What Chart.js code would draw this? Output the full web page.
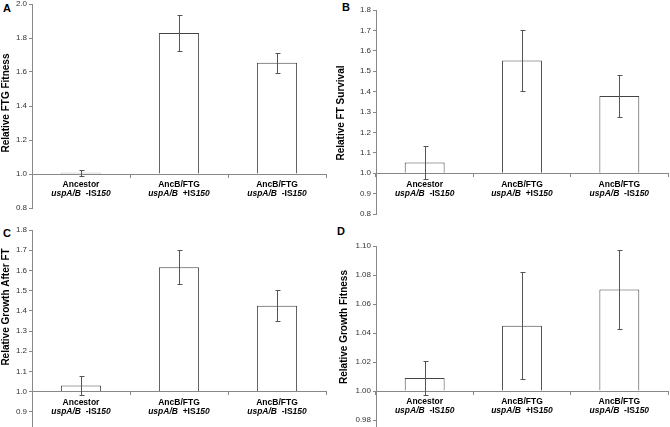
<!DOCTYPE html>
<html>
<head>
<meta charset="utf-8">
<script src="https://cdn.jsdelivr.net/npm/chart.js@4.4.1/dist/chart.umd.min.js"></script>
<style>
  html, body { margin: 0; padding: 0; background: #fff; }
  body { width: 670px; height: 427px; overflow: hidden; position: relative; }
  .panel { position: absolute; }
  .letter { position: absolute; font: bold 11px "Liberation Sans", Arial, sans-serif; line-height: 11px; color: #000; }
</style>
</head>
<body>
<div class="letter" style="left:3px;top:3px">A</div>
<div class="letter" style="left:342px;top:2px">B</div>
<div class="letter" style="left:3px;top:228px">C</div>
<div class="letter" style="left:337px;top:226px">D</div>

<canvas id="chartA" class="panel" width="335" height="220" style="left:0;top:0"></canvas>
<canvas id="chartB" class="panel" width="335" height="222" style="left:335px;top:0"></canvas>
<canvas id="chartC" class="panel" width="335" height="226" style="left:0;top:214px"></canvas>
<canvas id="chartD" class="panel" width="335" height="243" style="left:335px;top:214px"></canvas>

<script>
// strains (two label lines)
const strains = ['Ancestor', 'AncB/FTG', 'AncB/FTG'];
const genotypes = ['uspA/B  -IS150', 'uspA/B  +IS150', 'uspA/B  -IS150'];

// panel A
const ftgFitness = [1.007, 1.83, 1.655];
const ftgFitnessErr = [0.016, 0.105, 0.058];
const ftgFitnessTicks = [0.8, 2.0, 0.2];

// panel B
const ftSurvival = [1.052, 1.553, 1.378];
const ftSurvivalErr = [0.082, 0.151, 0.101];
const ftSurvivalTicks = [0.8, 1.8, 0.1];

// panel C
const growthAfterFt = [1.03, 1.616, 1.425];
const growthAfterFtErr = [0.045, 0.084, 0.076];
const growthAfterFtTicks = [0.8, 1.8, 0.1];

// panel D
const growthFitness = [1.009, 1.045, 1.07];
const growthFitnessErr = [0.012, 0.037, 0.0275];
const growthFitnessTicks = [0.96, 1.10, 0.02];

const FONT = '"Liberation Sans", Arial, sans-serif';

// error bars drawn on top of the bars
const errorBars = {
  id: 'errorBars',
  afterDatasetsDraw(chart, args, opts) {
    const ctx = chart.ctx;
    const y = chart.scales.y;
    const meta = chart.getDatasetMeta(0);
    const vals = chart.data.datasets[0].data;
    ctx.save();
    ctx.strokeStyle = '#555';
    ctx.lineWidth = 1;
    meta.data.forEach((bar, i) => {
      const x = Math.round(bar.x) + 0.5;
      const top = Math.round(y.getPixelForValue(vals[i] + opts.err[i])) + 0.5;
      const bot = Math.round(y.getPixelForValue(vals[i] - opts.err[i])) + 0.5;
      ctx.beginPath();
      ctx.moveTo(x, top); ctx.lineTo(x, bot);
      ctx.moveTo(x - 2, top); ctx.lineTo(x + 3, top);
      ctx.moveTo(x - 2, bot); ctx.lineTo(x + 3, bot);
      ctx.stroke();
    });
    ctx.restore();
  }
};

// two-line category labels under the axis at 1.0, mixed bold / italic
const strainLabels = {
  id: 'strainLabels',
  afterDraw(chart) {
    const ctx = chart.ctx;
    const xs = chart.scales.x;
    const axisY = chart.scales.y.getPixelForValue(1);
    ctx.save();
    ctx.fillStyle = '#000';
    ctx.textBaseline = 'middle';
    strains.forEach((name, i) => {
      const cx = xs.getPixelForValue(i);
      ctx.font = 'bold 8.5px ' + FONT;
      ctx.textAlign = 'center';
      ctx.fillText(name, cx, axisY + 11);

      const m = genotypes[i].match(/^(\S+)(\s+[-+]IS)(\d+)$/);
      const parts = [
        [m[1], 'italic bold 8.5px ' + FONT],
        [m[2], 'bold 8.5px ' + FONT],
        [m[3], 'italic bold 8.5px ' + FONT]
      ];
      let w = 0;
      parts.forEach(p => { ctx.font = p[1]; w += ctx.measureText(p[0]).width; });
      let x = cx - w / 2;
      ctx.textAlign = 'left';
      parts.forEach(p => {
        ctx.font = p[1];
        ctx.fillText(p[0], x, axisY + 20);
        x += ctx.measureText(p[0]).width;
      });
    });
    ctx.restore();
  }
};

// rotated y title
const yTitle = {
  id: 'yTitle',
  afterDraw(chart, args, opts) {
    const ctx = chart.ctx;
    ctx.save();
    ctx.translate(opts.x, opts.y);
    ctx.rotate(-Math.PI / 2);
    ctx.font = 'bold 10px ' + FONT;
    ctx.fillStyle = '#000';
    ctx.textAlign = 'center';
    ctx.textBaseline = 'middle';
    ctx.fillText(opts.text, 0, 0);
    ctx.restore();
  }
};

function makePanel(id, values, errs, ticks, title, layout) {
  const decimals = ticks[2] < 0.1 ? 2 : 1;
  return new Chart(document.getElementById(id), {
    type: 'bar',
    data: {
      labels: strains,
      datasets: [{
        data: values,
        base: 1,
        backgroundColor: '#fff',
        borderColor: '#444',
        borderWidth: 1,
        barPercentage: 0.41,
        categoryPercentage: 1
      }]
    },
    options: {
      responsive: false,
      animation: false,
      layout: { padding: layout.pad },
      plugins: {
        legend: { display: false },
        tooltip: { enabled: false },
        errorBars: { err: errs },
        yTitle: { text: title, x: layout.titleX, y: layout.titleY }
      },
      scales: {
        x: {
          position: { y: 1 },
          grid: { offset: true, drawOnChartArea: false, tickLength: 3, color: '#888' },
          border: { color: '#888' },
          ticks: { display: false },
          afterFit(s) { s.height = 0; }
        },
        y: {
          min: ticks[0],
          max: ticks[1],
          grid: { drawOnChartArea: false, tickLength: 3, color: '#888' },
          border: { color: '#888' },
          ticks: {
            stepSize: ticks[2],
            padding: 2,
            color: '#333',
            font: { family: FONT, size: 8 },
            callback: v => v.toFixed(decimals)
          },
          afterFit(s) {
            s.width = layout.yWidth;
            s.paddingTop = 0;
            s.paddingBottom = 0;
          }
        }
      }
    },
    plugins: [errorBars, strainLabels, yTitle]
  });
}

makePanel('chartA', ftgFitness, ftgFitnessErr, ftgFitnessTicks, 'Relative FTG Fitness',
  { yWidth: 32, pad: { top: 4, right: 9, bottom: 12, left: 0 }, titleX: 6, titleY: 103 });
makePanel('chartB', ftSurvival, ftSurvivalErr, ftSurvivalTicks, 'Relative FT Survival',
  { yWidth: 41, pad: { top: 10, right: 2, bottom: 8, left: 0 }, titleX: 6, titleY: 113 });
makePanel('chartC', growthAfterFt, growthAfterFtErr, growthAfterFtTicks, 'Relative Growth After FT',
  { yWidth: 32, pad: { top: 16, right: 9, bottom: 8, left: 0 }, titleX: 6, titleY: 93 });
makePanel('chartD', growthFitness, growthFitnessErr, growthFitnessTicks, 'Relative Growth Fitness',
  { yWidth: 41, pad: { top: 32, right: 2, bottom: 8, left: 0 }, titleX: 9, titleY: 113 });
</script>
</body>
</html>
